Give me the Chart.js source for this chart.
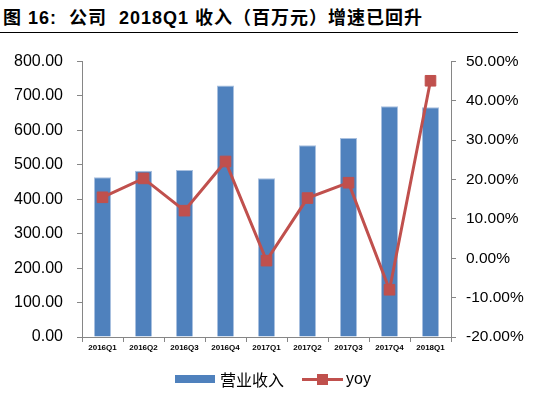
<!DOCTYPE html>
<html>
<head>
<meta charset="utf-8">
<script src="https://cdn.jsdelivr.net/npm/chart.js@4"></script>
<style>
    body { margin: 0; background: #fff; }
    #wrap { position: relative; width: 537px; height: 395px; overflow: hidden; }
    #chart { position: absolute; left: 0; top: 0; }
    .title {
        position: absolute; left: 3px; top: 3px;
        font: bold 18px "Liberation Sans", Arial, "Noto Sans CJK SC", sans-serif;
        letter-spacing: 1px; color: #000; white-space: pre;
    }
    .rule { position: absolute; left: 0; top: 32px; width: 518px; height: 1px; background: #000; }
    .legend { position: absolute; left: 0; top: 368px; width: 537px; height: 22px; }
    .legend span { position: absolute; font-family: "Liberation Sans", Arial, "Noto Sans CJK SC", sans-serif; color: #000; }
</style>
</head>
<body>
<div id="wrap">
    <div class="title">图 16:  公司  2018Q1 收入（百万元）增速已回升</div>
    <div class="rule"></div>
    <canvas id="chart" width="537" height="395"></canvas>
    <div class="legend">
        <span style="left:175px; top:7px; width:40px; height:8px; background:#4F81BD;"></span>
        <span id="lbl0" style="left:220px; top:0px; font-size:16px; line-height:22px; font-family:'Noto Sans CJK SC', sans-serif;"></span>
        <span style="left:302px; top:10px; width:41px; height:3px; background:#C0504D;"></span>
        <span style="left:317px; top:6px; width:11px; height:11px; background:#C0504D;"></span>
        <span id="lbl1" style="left:346px; top:0px; font-size:16px; line-height:22px;"></span>
    </div>
</div>
<script>
const categories = ['2016Q1', '2016Q2', '2016Q3', '2016Q4', '2017Q1', '2017Q2', '2017Q3', '2017Q4', '2018Q1'];
const revenue = [464, 483, 485, 730, 461, 557, 578, 670, 667];
const yoy = [15.5, 20.3, 12.1, 24.6, -0.6, 15.3, 19.2, -8.0, 45.1];
const seriesNames = ['营业收入', 'yoy'];

document.getElementById('lbl0').textContent = seriesNames[0];
document.getElementById('lbl1').textContent = seriesNames[1];

const axisColor = '#868686';
const font = 'Liberation Sans, Arial, sans-serif';

const ctx = document.getElementById('chart').getContext('2d');
new Chart(ctx, {
    data: {
        labels: categories,
        datasets: [{
            type: 'line',
            label: seriesNames[1],
            data: yoy,
            yAxisID: 'y1',
            order: 0,
            borderColor: '#C0504D',
            backgroundColor: '#C0504D',
            borderWidth: 3,
            pointStyle: 'rect',
            pointRadius: 7.5,
            pointBorderWidth: 1,
            tension: 0
        }, {
            type: 'bar',
            label: seriesNames[0],
            data: revenue,
            yAxisID: 'y',
            order: 1,
            backgroundColor: '#4F81BD',
            borderColor: '#A9C0DF',
            borderWidth: 1,
            barPercentage: 0.415,
            categoryPercentage: 1
        }]
    },
    options: {
        responsive: false,
        animation: false,
        layout: { padding: { left: 0, right: 0, top: 61.5, bottom: 38 } },
        plugins: { legend: { display: false }, tooltip: { enabled: false } },
        scales: {
            x: {
                offset: true,
                grid: { offset: true, drawOnChartArea: false, drawTicks: true, tickLength: 5, color: axisColor },
                border: { color: axisColor, width: 1 },
                ticks: { color: '#000', font: { family: font, size: 8, weight: 'bold' }, padding: 1, maxRotation: 0 },
                afterFit(scale) { scale.height = 20; }
            },
            y: {
                position: 'left',
                min: 0, max: 800,
                grid: { drawOnChartArea: false, drawTicks: true, tickLength: 5, color: axisColor },
                border: { color: axisColor, width: 1 },
                ticks: {
                    stepSize: 100, color: '#000', padding: 14,
                    font: { family: font, size: 16 },
                    callback: v => v.toFixed(2)
                },
                afterFit(scale) { scale.width = 82; }
            },
            y1: {
                position: 'right',
                min: -20, max: 50,
                grid: { drawOnChartArea: false, drawTicks: true, tickLength: 5, color: axisColor },
                border: { color: axisColor, width: 1 },
                ticks: {
                    stepSize: 10, color: '#000', padding: 10,
                    font: { family: font, size: 15.5 },
                    callback: v => v.toFixed(2) + '%'
                },
                afterFit(scale) { scale.width = 86; }
            }
        }
    }
});
</script>
</body>
</html>
